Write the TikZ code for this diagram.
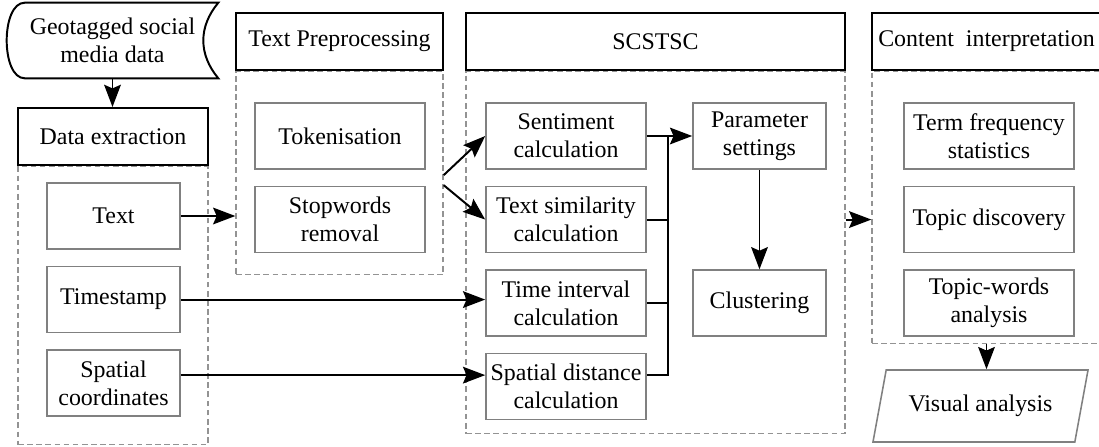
\documentclass[tikz,border=0pt]{standalone}
\usepackage{fontspec}
\setmainfont{Liberation Serif}
\usepackage{tikz}
\usetikzlibrary{shapes.geometric, arrows.meta, positioning, backgrounds}

\begin{document}
\begin{tikzpicture}[
  x=0.025cm, y=-0.025cm,
  node distance=0.4cm,
  font=\rmfamily\fontsize{17}{20}\selectfont,
  stage/.style={draw, line width=1.4pt, minimum height=1.425cm,
                inner sep=1pt, fill=white},
  panel/.style={draw=gray!85, dash pattern=on 4pt off 2.5pt,
                line width=0.9pt, inner sep=0pt},
  box/.style={draw=gray, line width=1.1pt, minimum width=4.25cm,
              minimum height=1.65cm, inner sep=1pt, align=center},
  flow/.style={line width=1.4pt, arrows={-Stealth[scale=1.7, inset=1.5pt]}},
  link/.style={line width=1.4pt}
]
\clip (0,0) rectangle (1099,447);

% input data
\node[minimum width=5.275cm, minimum height=1.875cm, inner sep=0pt, align=center] (geo) at (112.5,40.5) {Geotagged social\\media data};
\draw[line width=1.4pt] ([xshift=0.45cm]geo.north west) -- (geo.north east)
  .. controls +(-0.5cm,-0.6cm) and +(-0.5cm,0.6cm) .. (geo.south east)
  -- ([xshift=0.45cm]geo.south west)
  .. controls +(-0.6cm,0cm) and +(-0.6cm,0cm) .. ([xshift=0.45cm]geo.north west) -- cycle;

% stage headers
\node[stage, minimum width=4.75cm]  (dex) at (113,136.5)  {Data extraction};
\node[stage, minimum width=5.175cm] (tp)  at (339.5,41.5) {Text Preprocessing};
\node[stage, minimum width=9.475cm] (sc)  at (655.5,41.5) {SCSTSC};
\node[stage, minimum width=5.725cm] (ci)  at (986.5,41.5) {Content\ \ interpretation};

% dashed panels
\begin{scope}[on background layer]
\node[panel, below=0pt of dex, minimum width=4.75cm,  minimum height=6.95cm]  (dexg) {};
\node[panel, below=0pt of tp,  minimum width=5.175cm, minimum height=5.075cm] (tpg)  {};
\node[panel, below=0pt of sc,  minimum width=9.475cm, minimum height=9.05cm]  (scg)  {};
\node[panel, below=0pt of ci,  minimum width=5.725cm, minimum height=6.8cm]   (cig)  {};
\end{scope}

% data extraction
\node[box, minimum width=3.325cm] (txt) at (113.5,216) {Text};
\node[box, minimum width=3.325cm, below=of txt] (tst)  {Timestamp};
\node[box, minimum width=3.325cm, below=of tst] (spco) {Spatial\\coordinates};

% text preprocessing
\node[box] (tok) at (340,136) {Tokenisation};
\node[box, below=of tok] (stw) {Stopwords\\removal};

% SCSTSC
\node[box, minimum width=4cm] (sent) at (566,136) {Sentiment\\calculation};
\node[box, minimum width=4cm, below=of sent] (sim)  {Text similarity\\calculation};
\node[box, minimum width=4cm, below=of sim]  (tiv)  {Time interval\\calculation};
\node[box, minimum width=4cm, below=of tiv]  (spdi) {Spatial distance\\calculation};
\node[box, minimum width=3.325cm] (par) at (759.5,136) {Parameter\\settings};
\node[box, minimum width=3.325cm] (clu) at (par |- tiv) {Clustering};

% content interpretation
\node[box] (tfs) at (989,136) {Term frequency\\statistics};
\node[box, below=of tfs]  (tdis) {Topic discovery};
\node[box, below=of tdis] (tw)   {Topic-words\\analysis};
\node[draw=gray, line width=1.1pt, trapezium, trapezium left angle=67, trapezium right angle=113,
      trapezium stretches body, minimum width=5.375cm, minimum height=1.8cm] (va) at (980.5,406) {Visual analysis};

% connectors
\coordinate (spy) at ([yshift=0.2cm]spco.east);
\coordinate (bus) at ([xshift=0.525cm]sent.east);
\draw[flow] (geo.south) -- (geo.south |- dex.north);
\draw[flow] (txt.east) -- (tpg.west |- txt.east);
\draw[flow] (tst.east) -- (tst.east -| tiv.west);
\draw[flow] (spy) -- (spy -| spdi.west);
\draw[flow] ([yshift=-0.05cm]tpg.east) -- (sent.west);
\draw[flow] ([yshift=-0.3cm]tpg.east) -- (sim.west);
\draw[flow] (sent) -- (par);
\draw[link] (sim.east) -- (sim.east -| bus);
\draw[link] (tiv.east) -- (tiv.east -| bus);
\draw[link] (bus) |- (spy -| spdi.east);
\draw[flow] (par) -- (clu);
\draw[flow] (scg.east |- tdis) -- (cig.west |- tdis);
\draw[flow] (cig.south) -- (cig.south |- va.north);
\end{tikzpicture}
\end{document}
